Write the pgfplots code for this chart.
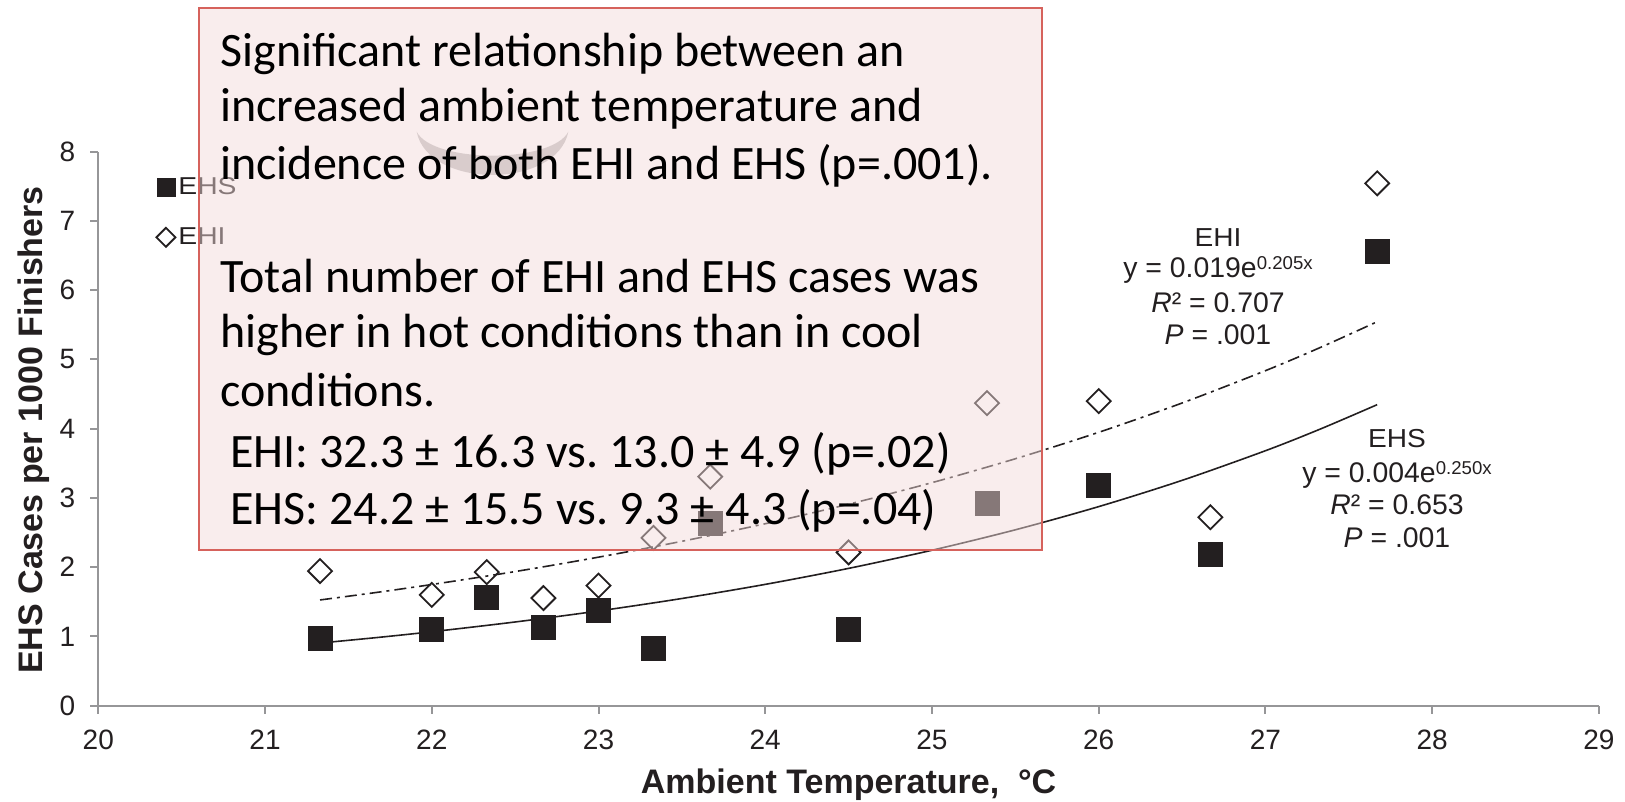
\documentclass[border=0pt]{standalone}
\usepackage{fontspec}
\setmainfont{Liberation Sans}
\newfontfamily\calibri{Carlito}
\usepackage{graphicx}
\usepackage{pgfplots}
\pgfplotsset{compat=1.18}
\frenchspacing
\definecolor{ink}{RGB}{35,31,32}
\definecolor{axisgray}{RGB}{150,150,152}
\definecolor{boxfill}{RGB}{243,218,218}
\definecolor{boxedge}{RGB}{214,98,92}
\definecolor{crescent}{RGB}{195,193,193}
\newcommand{\ann}{\fontsize{12.2bp}{14bp}\selectfont}
\newcommand{\anntitle}{\fontsize{13bp}{15bp}\selectfont}
\newcommand{\annline}{\fontsize{14.2bp}{16bp}\selectfont}
\newcommand{\sups}[1]{\raisebox{4.2bp}{\fontsize{9.3bp}{10bp}\selectfont #1}}
\newcommand{\boxfont}{\calibri\fontsize{24bp}{28bp}\selectfont}
\pgfplotsset{
  ehsleg/.style={legend image code/.code={\draw[##1, mark size=4.5bp] plot coordinates {(0,0)};}},
  ehileg/.style={legend image code/.code={\draw[##1, mark size=3.36bp] plot coordinates {(0,0)};}},
}

\pgfplotstableread{
x      ehs    ehi
21.33  0.972  1.944
22.00  1.106  1.600
22.33  1.570  1.929
22.67  1.137  1.555
23.00  1.376  1.735
23.33  0.822  2.423
23.67  2.633  3.307
24.50  1.106  2.214
25.33  2.917  4.369
26.00  3.187  4.399
26.67  2.184  2.722
27.67  6.555  7.543
}\cases

\pgfplotstableread{
x      ehs    ehi
21.33  0.905  1.527
21.67  0.984  1.636
22.00  1.068  1.750
22.50  1.209  1.937
23.00  1.368  2.145
23.50  1.548  2.374
24.00  1.752  2.628
24.50  1.983  2.910
25.00  2.245  3.221
25.50  2.540  3.566
26.00  2.875  3.948
26.50  3.254  4.371
27.00  3.682  4.838
27.33  3.996  5.174
27.67  4.347  5.545
}\trend

\begin{document}
\begin{tikzpicture}
\begin{axis}[
  at={(49.15bp,48.15bp)}, anchor=south west,
  scale only axis, width=750.3bp, height=277bp,
  xmin=20, xmax=29, ymin=0, ymax=8,
  xtick={20,21,...,29}, ytick={0,1,...,8},
  axis x line=bottom, axis y line=left,
  axis line style={-, draw=axisgray, line width=1bp},
  tick align=outside, major tick length=4bp,
  tick style={draw=axisgray, line width=1bp},
  ticklabel style={font=\fontsize{14bp}{16bp}\selectfont, text=ink},
  xticklabel style={yshift=-4.7bp},
  yticklabel style={xshift=-4bp},
  /pgf/number format/assume math mode=true,
  xlabel={Ambient Temperature,\ \ °C},
  ylabel={EHS Cases per 1000 Finishers},
  label style={font=\fontsize{17bp}{19bp}\selectfont\bfseries, text=ink},
  xlabel style={at={(axis description cs:0.5,-0.1576)}, anchor=base},
  ylabel style={at={(axis description cs:-0.0375,0.4977)}, anchor=base},
  legend cell align=left,
  legend style={at={(0.03845,0.9543)}, anchor=north west, draw=none, fill=none,
    inner sep=0pt, row sep=15bp, font=\ann, text=ink,
    nodes={inner sep=0pt},
    /tikz/every odd column/.append style={column sep=1.5bp}},
]
\addplot[only marks, mark=square*, mark size=6bp, color=ink, ehsleg]
  table[x=x, y=ehs] {\cases};
\addlegendentry{\scalebox{1.16}[1]{EHS}}
\addplot[only marks, mark=square, mark size=4.24bp, color=ink,
  mark options={rotate=45, line width=0.9bp, fill=none}, ehileg]
  table[x=x, y=ehi] {\cases};
\addlegendentry{\scalebox{1.16}[1]{EHI}}
\addplot[ink, line width=0.8bp, smooth, no marks, forget plot,
  dash pattern=on 6bp off 2.5bp on 1.5bp off 2.5bp]
  table[x=x, y=ehi] {\trend};
\addplot[ink, line width=0.8bp, smooth, no marks, forget plot]
  table[x=x, y=ehs] {\trend};
\end{axis}

% faint crescent behind the text box
\fill[crescent] (208.3bp,335.2bp) .. controls (214bp,306.3bp) and (278.5bp,306.3bp) .. (284.2bp,335.2bp)
  .. controls (276bp,319.2bp) and (216.5bp,319.2bp) .. cycle;

% trend line annotations
\begin{scope}[every node/.style={anchor=base, inner sep=0pt, text=ink}]
\node at (609bp,277.5bp) {\anntitle\scalebox{1.08}[1]{EHI}};
\node at (609bp,262bp) {\annline y = 0.019e\sups{0.205x}};
\node at (609bp,244.5bp) {\annline\textit{R}² = 0.707};
\node at (609bp,228.5bp) {\annline\textit{P} = .001};
\node at (698.5bp,177bp) {\anntitle\scalebox{1.08}[1]{EHS}};
\node at (698.5bp,159.5bp) {\annline y = 0.004e\sups{0.250x}};
\node at (698.5bp,143.5bp) {\annline\textit{R}² = 0.653};
\node at (698.5bp,127bp) {\annline\textit{P} = .001};
\end{scope}

% translucent text box
\fill[boxfill, fill opacity=0.48] (99.5bp,126bp) rectangle (521bp,397bp);
\draw[boxedge, line width=1.1bp] (99.5bp,126bp) rectangle (521bp,397bp);
\begin{scope}[every node/.style={anchor=base west, inner sep=0pt, font=\boxfont, text=black}]
\node at (110bp,367.7bp) {Significant relationship between an};
\node at (110bp,340.2bp) {increased ambient temperature and};
\node at (110bp,311bp) {incidence of both EHI and EHS (p=.001).};
\node at (110bp,254.5bp) {Total number of EHI and EHS cases was};
\node at (110bp,227bp) {higher in hot conditions than in cool};
\node at (110bp,197.5bp) {conditions.};
\node at (115bp,167bp) {EHI: 32.3 ± 16.3 vs. 13.0 ± 4.9 (p=.02)};
\node at (115bp,138.5bp) {EHS: 24.2 ± 15.5 vs. 9.3 ± 4.3 (p=.04)};
\end{scope}

\pgfresetboundingbox
\path[use as bounding box] (0,0) rectangle (812.5bp,401bp);
\end{tikzpicture}
\end{document}
